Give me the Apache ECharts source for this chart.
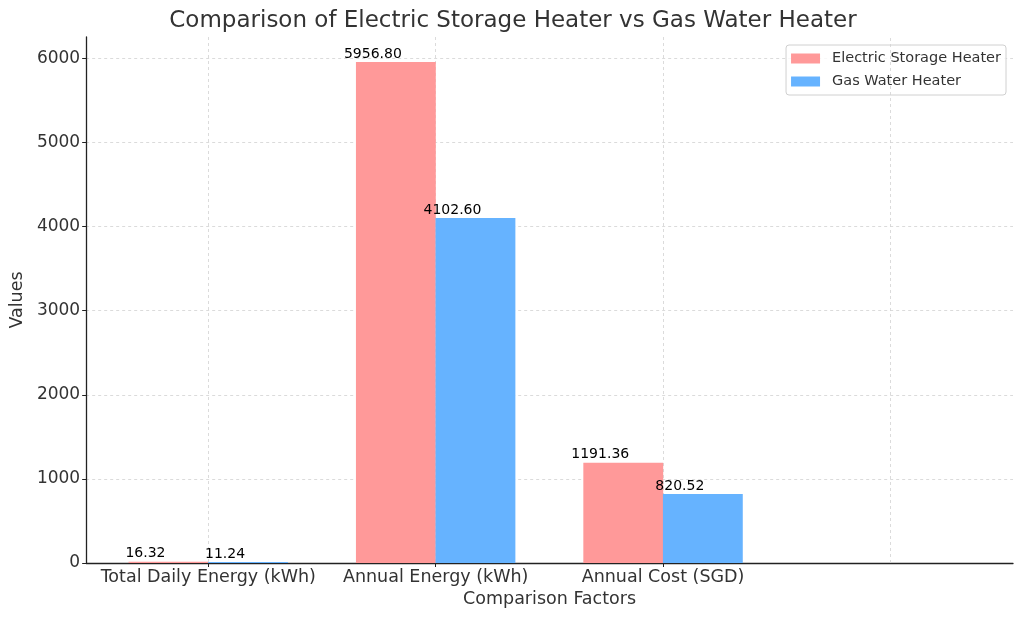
<!DOCTYPE html>
<html>
<head>
<meta charset="utf-8">
<script src="https://cdn.jsdelivr.net/npm/echarts@6/dist/echarts.min.js"></script>
<style>html,body{margin:0;padding:0;background:#fff}#c{width:1024px;height:619px}</style>
</head>
<body>
<div id="c"></div>
<script>
const categories = ['Total Daily Energy (kWh)', 'Annual Energy (kWh)', 'Annual Cost (SGD)'];
const electricValues = [16.32, 5956.80, 1191.36];
const gasValues = [11.24, 4102.60, 820.52];
const seriesNames = ['Electric Storage Heater', 'Gas Water Heater'];
const yTicks = [0, 1000, 2000, 3000, 4000, 5000, 6000];
const xTickPositions = [0, 1, 2];
const extraGridX = [3];

const BAR_W = 0.35;           // bar width in category units
const X_MIN = -0.537, X_MAX = 3.539;
const Y_MAX = 6254.64;
const FONT = 'DejaVu Sans';

const chart = echarts.init(document.getElementById('c'), null, {renderer: 'canvas'});
const plotW = 1024 - 83 - 11;
const barPx = BAR_W * plotW / (X_MAX - X_MIN);

function mk(vals, off) { return vals.map((v, i) => [i + off, v]); }

const gridStyle = {color: '#d2d2d2', type: [3, 3], width: 0.8};

const labelCfg = {
  show: true, position: 'top', distance: 1, offset: [-23, 0],
  color: '#000', fontFamily: FONT, fontSize: 14,
  formatter: p => p.value[1].toFixed(2)
};

chart.setOption({
  animation: false,
  backgroundColor: '#fff',
  title: {
    text: 'Comparison of Electric Storage Heater vs Gas Water Heater',
    left: 508, top: 5, textAlign: 'center',
    textStyle: {fontFamily: FONT, fontSize: 23, fontWeight: 'normal', color: '#333'}
  },
  legend: {
    orient: 'vertical', right: 18, top: 45, align: 'left',
    itemWidth: 29, itemHeight: 10, itemGap: 8, icon: 'rect',
    padding: [6, 5, 6, 5], borderColor: '#d0d0d0', borderWidth: 1, borderRadius: 3,
    backgroundColor: 'rgba(255,255,255,0.8)',
    textStyle: {fontFamily: FONT, fontSize: 14.5, color: '#333', padding: [0, 0, 0, 7]},
    data: seriesNames
  },
  grid: {left: 83, right: 11, top: 37, bottom: 56, containLabel: false},
  xAxis: {
    type: 'value', min: X_MIN, max: X_MAX,
    name: 'Comparison Factors', nameLocation: 'middle', nameGap: 27,
    nameTextStyle: {fontFamily: FONT, fontSize: 17.5, color: '#333'},
    axisLine: {show: true, onZero: false, lineStyle: {color: '#222', width: 1.3}},
    axisTick: {show: true, customValues: xTickPositions, length: 4, lineStyle: {color: '#222'}},
    axisLabel: {
      customValues: xTickPositions, margin: 5,
      fontFamily: FONT, fontSize: 17.5, color: '#333',
      formatter: v => categories[Math.round(v)] || ''
    },
    splitLine: {show: true, lineStyle: gridStyle}
  },
  yAxis: {
    type: 'value', min: 0, max: Y_MAX,
    name: 'Values', nameLocation: 'middle', nameGap: 57,
    nameTextStyle: {fontFamily: FONT, fontSize: 17.5, color: '#333'},
    axisLine: {show: true, onZero: false, lineStyle: {color: '#222', width: 1.3}},
    axisTick: {show: true, customValues: yTicks, length: 4, lineStyle: {color: '#222'}},
    axisLabel: {customValues: yTicks, margin: 6, fontFamily: FONT, fontSize: 17, color: '#333',
      formatter: v => String(v)},
    splitLine: {show: true, lineStyle: gridStyle}
  },
  series: [
    {
      name: seriesNames[0], type: 'bar', barWidth: barPx, barGap: '-100%',
      itemStyle: {color: '#ff9999'},
      label: labelCfg,
      markLine: {
        silent: true, symbol: 'none', label: {show: false},
        lineStyle: gridStyle,
        data: extraGridX.map(x => ({xAxis: x}))
      },
      z: 2,
      data: mk(electricValues, -BAR_W / 2)
    },
    {
      name: seriesNames[1], type: 'bar', barWidth: barPx, barGap: '-100%',
      itemStyle: {color: '#66b3ff'},
      label: labelCfg,
      data: mk(gasValues, BAR_W / 2)
    }
  ]
});
</script>
</body>
</html>
